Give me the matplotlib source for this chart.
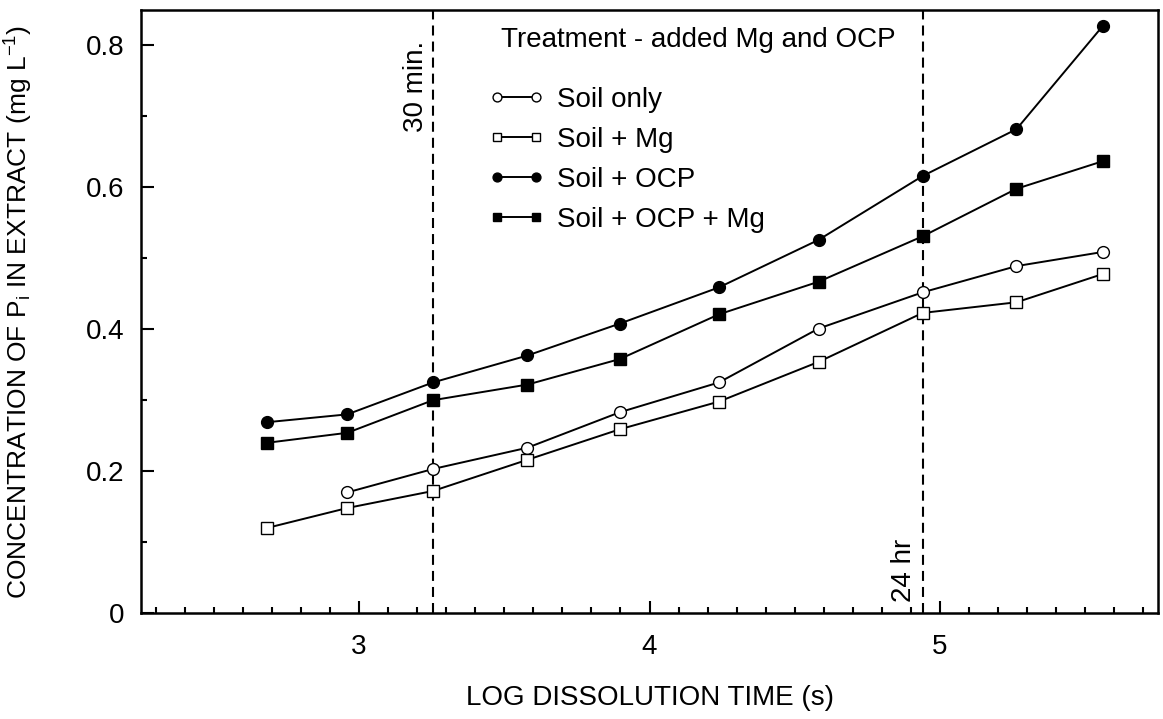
import numpy as np
import matplotlib
matplotlib.use("Agg")
import matplotlib.pyplot as plt
from matplotlib.ticker import MultipleLocator, FuncFormatter

plt.rcParams['font.family'] = ['Liberation Sans', 'DejaVu Sans']
plt.rcParams['mathtext.fontset'] = 'custom'
plt.rcParams['mathtext.rm'] = 'Liberation Sans'
plt.rcParams['mathtext.it'] = 'Liberation Sans'

# ---- data ----
log_time = [2.685, 2.96, 3.255, 3.58, 3.898, 4.239, 4.582, 4.94, 5.263, 5.561]
soil_only_time = [2.96, 3.255, 3.58, 3.898, 4.239, 4.582, 4.94, 5.263, 5.561]
soil_only = [0.170, 0.203, 0.233, 0.283, 0.325, 0.401, 0.452, 0.489, 0.509]
soil_mg = [0.120, 0.148, 0.172, 0.216, 0.259, 0.298, 0.354, 0.423, 0.438, 0.478]
soil_ocp = [0.269, 0.280, 0.325, 0.363, 0.408, 0.459, 0.526, 0.616, 0.682, 0.828]
soil_ocp_mg = [0.240, 0.254, 0.300, 0.322, 0.358, 0.421, 0.467, 0.531, 0.598, 0.637]
labels = ["Soil only", "Soil + Mg", "Soil + OCP", "Soil + OCP + Mg"]
ref_times = [3.255, 4.94]          # 30 min, 24 hr
ref_labels = ["30 min.", "24 hr"]
x_ticks = [3, 4, 5]
y_ticks = [0, 0.2, 0.4, 0.6, 0.8]

W, H = 1163, 719
fig = plt.figure(figsize=(W / 100, H / 100), dpi=100)
ax = fig.add_axes([141 / W, (H - 613) / H, (1158 - 141) / W, (613 - 10) / H])

FS = 20
lw = 1.4
ms = 8.5

common = dict(color='black', lw=lw, markeredgewidth=1.0, markersize=ms, clip_on=False)
l1, = ax.plot(soil_only_time, soil_only, marker='o', markerfacecolor='white', label=labels[0], **common)
l2, = ax.plot(log_time, soil_mg, marker='s', markerfacecolor='white', label=labels[1], **common)
l3, = ax.plot(log_time, soil_ocp, marker='o', markerfacecolor='black', label=labels[2], **common)
l4, = ax.plot(log_time, soil_ocp_mg, marker='s', markerfacecolor='black', label=labels[3], **common)

for t in ref_times:
    vl = ax.axvline(t, color='black', lw=1.5, zorder=1)
    vl.set_dashes((4.8, 2.9))

ax.text(ref_times[0] - 0.06, 0.742, ref_labels[0], rotation=90, ha='center', va='center', fontsize=FS)
ax.text(ref_times[1] - 0.063, 0.015, ref_labels[1], rotation=90, ha='center', va='bottom', fontsize=FS)

ax.set_xlim(2.25, 5.75)
ax.set_ylim(0, 0.85)
ax.set_xticks(x_ticks)
ax.set_yticks(y_ticks)
ax.xaxis.set_minor_locator(MultipleLocator(0.1))
ax.yaxis.set_minor_locator(MultipleLocator(0.1))
ax.yaxis.set_major_formatter(FuncFormatter(lambda v, p: '%g' % v))
ax.tick_params(which='both', direction='in', top=False, right=False, labelsize=FS, width=1.5)
ax.tick_params(axis='x', pad=15)
ax.tick_params(axis='y', pad=12)
ax.tick_params(which='major', length=9)
ax.tick_params(which='minor', length=4.5)
for s in ax.spines.values():
    s.set_linewidth(1.8)

ax.set_xlabel("LOG DISSOLUTION TIME (s)", fontsize=FS)
ax.set_ylabel("CONCENTRATION OF P$_{\\mathrm{i}}$ IN EXTRACT (mg L$^{\\mathrm{-1}}$)", fontsize=19)
ax.xaxis.set_label_coords(0.5, -0.12)
ax.yaxis.set_label_coords(-0.104, 0.5)

leg = ax.legend(handles=[l1, l2, l3, l4], loc='upper left', bbox_to_anchor=((489 - 141) / 1017, (613 - 87) / 603),
                frameon=False, numpoints=2, handlelength=2.0, handletextpad=0.45, labelspacing=0.5,
                fontsize=FS, borderpad=0, borderaxespad=0, markerscale=0.75)
ax.text((501 - 141) / 1017, (613 - 40) / 603, "Treatment - added Mg and OCP", transform=ax.transAxes,
        ha='left', va='center', fontsize=FS)

fig.savefig("out.png", dpi=100)
